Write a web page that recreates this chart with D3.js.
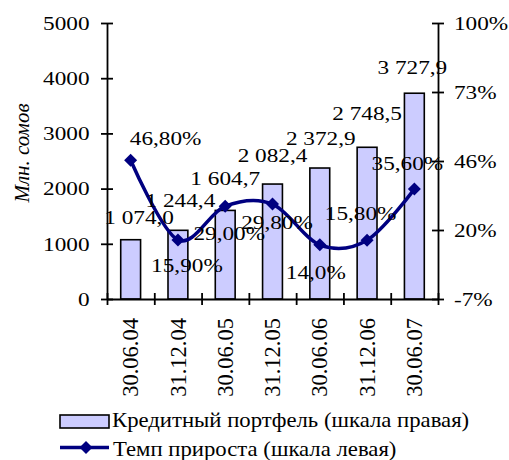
<!DOCTYPE html>
<html><head><meta charset="utf-8">
<script src="https://cdn.jsdelivr.net/npm/d3@7"></script>
<style>body{margin:0;background:#fff}svg{display:block}</style>
</head><body>
<svg id="c" width="509" height="460"></svg>
<script>
const categories = ["30.06.04","31.12.04","30.06.05","31.12.05","30.06.06","31.12.06","30.06.07"];
const portfolio = [1074.0,1244.4,1604.7,2082.4,2372.9,2748.5,3727.9];
const portfolioLabels = ["1 074,0","1 244,4","1 604,7","2 082,4","2 372,9","2 748,5","3 727,9"];
const growth = [46.8,15.9,29.0,29.8,14.0,15.8,35.6];
const growthLabels = ["46,80%","15,90%","29,00%","29,80%","14,0%","15,80%","35,60%"];
const leftTicks = [0,1000,2000,3000,4000,5000];
const rightTicks = [-7,19.75,46.5,73.25,100];
const rightTickLabels = ["-7%","20%","46%","73%","100%"];
const seriesNames = ["Кредитный портфель (шкала правая)","Темп прироста (шкала левая)"];
const yTitle = "Млн. сомов";
// label nudges (layout only)
const growthLabelOffset = [[35,-22],[9,25],[4,27],[4.5,18],[-4,27],[-6.5,-27],[-7,-26]];
const barLabelOffset = [[8.5,-22],[2.5,-30],[0,-32],[0,-29],[1,-30],[0,-34],[-2,-26]];

const FONT = "Liberation Serif, Times New Roman, Tinos, DejaVu Serif, serif";
const SX = 1.18, FS = 19.7;
const BAR_FILL = "#ccccff", LINE = "#000080";

const svg = d3.select("#c");
const L = 107, R = 438, T = 23, B = 299;
const x = d3.scaleBand().domain(categories).range([L, R]).padding(0);
const yL = d3.scaleLinear().domain([0,5000]).range([B, T]);
const yR = d3.scaleLinear().domain([-7,100]).range([B, T]);
const barW = x.bandwidth() * 0.42;
const cx = c => x(c) + x.bandwidth()/2;

function hText(g, str, px, py, anchor, fs, sx) {
  return g.append("text")
    .attr("transform", `translate(${px},${py}) scale(${sx},1)`)
    .attr("text-anchor", anchor).attr("dy", "0.34em")
    .style("font-family", FONT).attr("font-size", fs).attr("fill", "#000")
    .text(str);
}

// bars
svg.append("g").selectAll("rect").data(portfolio).join("rect")
  .attr("x", (d,i) => cx(categories[i]) - barW/2)
  .attr("y", d => yL(d)).attr("width", barW).attr("height", d => B - yL(d))
  .attr("fill", BAR_FILL).attr("stroke", "#000").attr("stroke-width", 1.6);

// axes
function crossTicks(g, horiz) {
  g.select(".domain").attr("stroke-width", 1.8);
  g.selectAll(".tick line").attr("stroke-width", 1.8)
    .attr(horiz ? "y1" : "x1", -6).attr(horiz ? "y2" : "x2", 6);
}
const gL = svg.append("g").attr("transform", `translate(${L},0)`)
  .call(d3.axisLeft(yL).tickValues(leftTicks).tickSize(6).tickSizeOuter(0).tickFormat(""));
crossTicks(gL, false);
leftTicks.forEach(v => hText(svg, String(v), L - 17.5, yL(v), "end", FS, SX));

const gR = svg.append("g").attr("transform", `translate(${R},0)`)
  .call(d3.axisRight(yR).tickValues(rightTicks).tickSize(6).tickSizeOuter(0).tickFormat(""));
crossTicks(gR, false);
rightTicks.forEach((v,i) => hText(svg, rightTickLabels[i], R + 16, yR(v), "start", FS, SX));

const xLin = d3.scaleLinear().domain([0, categories.length]).range([L, R]);
const gB = svg.append("g").attr("transform", `translate(0,${B})`)
  .call(d3.axisBottom(xLin).tickValues(d3.range(categories.length + 1)).tickSize(6).tickSizeOuter(0).tickFormat(""));
crossTicks(gB, true);

// category labels
svg.append("g").selectAll("text").data(categories).join("text")
  .attr("transform", d => `translate(${cx(d)},318) rotate(-90)`)
  .attr("text-anchor", "end").attr("dy", "0.34em")
  .style("font-family", FONT).attr("font-size", 22.5).text(d => d);

// y title
svg.append("text")
  .attr("transform", `translate(22,153) rotate(-90)`)
  .attr("text-anchor", "middle").attr("dy", "0.34em")
  .style("font-family", FONT).attr("font-style", "italic").attr("font-size", 21)
  .text(yTitle);

// line
const line = d3.line()
  .x((d,i) => cx(categories[i]))
  .y(d => yR(d))
  .curve(d3.curveCardinal.tension(0));
svg.append("path").datum(growth).attr("d", line)
  .attr("fill", "none").attr("stroke", LINE).attr("stroke-width", 3.5);
const dia = "M0,-6.5L6.5,0L0,6.5L-6.5,0Z";
svg.append("g").selectAll("path").data(growth).join("path")
  .attr("transform", (d,i) => `translate(${cx(categories[i])},${yR(d)})`)
  .attr("d", dia).attr("fill", LINE);

// bar labels
portfolio.forEach((v,i) => hText(svg, portfolioLabels[i],
  cx(categories[i]) + barLabelOffset[i][0], yL(v) + barLabelOffset[i][1], "middle", FS, SX));
// growth labels
growth.forEach((v,i) => hText(svg, growthLabels[i],
  cx(categories[i]) + growthLabelOffset[i][0], yR(v) + growthLabelOffset[i][1], "middle", FS, SX));

// legend
const lg = svg.append("g");
lg.append("rect").attr("x", 60).attr("y", 415).attr("width", 49).attr("height", 13)
  .attr("fill", BAR_FILL).attr("stroke", "#000").attr("stroke-width", 1.6);
hText(lg, seriesNames[0], 112, 419.5, "start", 22, 1.033);
lg.append("line").attr("x1", 60).attr("x2", 109).attr("y1", 447.5).attr("y2", 447.5)
  .attr("stroke", LINE).attr("stroke-width", 3.5);
lg.append("path").attr("transform", "translate(86,447.5)").attr("d", dia).attr("fill", LINE);
hText(lg, seriesNames[1], 113, 448.3, "start", 22, 1.033);
</script>
</body></html>
